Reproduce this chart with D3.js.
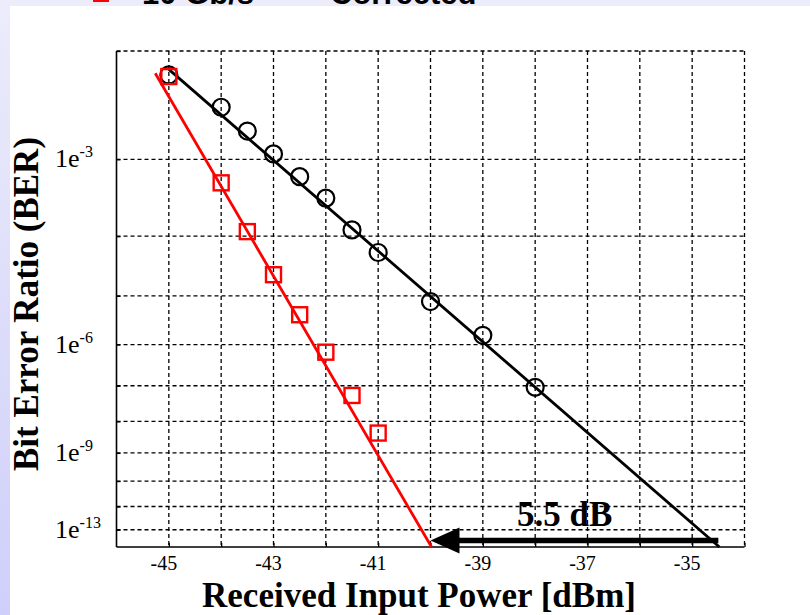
<!DOCTYPE html>
<html><head><meta charset="utf-8">
<script src="https://cdn.jsdelivr.net/npm/d3@7"></script>
<style>body{margin:0;background:#fff;overflow:hidden}svg{display:block}</style>
</head><body>
<script>
// ---- data ----
const xTickValues = [-45, -43, -41, -39, -37, -35];
const xGridValues = [-45, -44, -43, -42, -41, -40, -39, -38, -37, -36, -35, -34];
const yGridQ = [2, 3, 4, 5, 6, 7, 8, 9, 10, 11, 12];   // -log10(BER)
const yTickQ = [3, 6, 9, 12];
const yTickLabels = ["-3", "-6", "-9", "-13"];
const circlePower = [-45, -44, -43.5, -43, -42.5, -42, -41.5, -41, -40, -39, -38];
const circleBER = [6.5e-3, 3.4e-3, 2.0e-3, 1.15e-3, 6.3e-4, 3.4e-4, 1.24e-4, 5.6e-5, 7.8e-6, 1.6e-6, 9.1e-8];
const squarePower = [-45, -44, -43.5, -43, -42.5, -42, -41.5, -41];
const squareBER = [6.3e-3, 5.3e-4, 1.17e-4, 2.4e-5, 4.3e-6, 6.7e-7, 5.5e-8, 4.4e-9];
const fitBlackPower = [-45, -34.48];
const fitBlackBER = [7.2e-3, 1.58e-13];
const fitRedPower = [-45.26, -39.98];
const fitRedBER = [6.7e-3, 1.58e-13];
const arrowPower = [-34.5, -40];
const arrowBER = [3.2e-13, 3.2e-13];
const legendLabels = ["10 Gb/s", "Corrected"];

// ---- chart ----
const W = 810, H = 615;
const svg = d3.select("body").append("svg").attr("width", W).attr("height", H);
const defs = svg.append("defs");
const grad = defs.append("linearGradient").attr("id", "bg").attr("x1", 0).attr("y1", 0).attr("x2", 0).attr("y2", 1);
grad.append("stop").attr("offset", 0).attr("stop-color", "#ececfb");
grad.append("stop").attr("offset", 1).attr("stop-color", "#cfcffa");
svg.append("rect").attr("width", W).attr("height", H).attr("fill", "url(#bg)");
svg.append("rect").attr("width", W).attr("height", 6).attr("fill", "#ececfb");

// top legend (clipped at the top edge, as in the original)
svg.append("rect").attr("x", 94).attr("y", -12).attr("width", 14).attr("height", 13)
  .attr("fill", "none").attr("stroke", "#ff0000").attr("stroke-width", 2);
svg.selectAll("text.leg").data(legendLabels).join("text").attr("class", "leg")
  .attr("x", (d, i) => [142, 330][i]).attr("y", 4)
  .attr("font-family", "Liberation Sans, Arial, sans-serif").attr("font-weight", "bold")
  .attr("font-size", 31).attr("fill", "#000").text(d => d);

svg.append("rect").attr("x", 10).attr("y", 6).attr("width", W - 10).attr("height", H - 6).attr("fill", "#fff");

const x = d3.scaleLinear().domain([-46, -34]).range([116.5, 744.5]);
const yq = d3.scaleLog().domain([2, 12.8]).range([51, 547]);
const y = ber => yq(-Math.log10(ber));
const [x0, x1] = x.range();
const [y0, y1] = yq.range();

const g = svg.append("g");
// grid
g.selectAll("line.hg").data(yGridQ).join("line").attr("class", "hg")
  .attr("x1", x0).attr("x2", x1).attr("y1", d => yq(d)).attr("y2", d => yq(d))
  .attr("stroke", "#000").attr("stroke-width", 1.3).attr("stroke-dasharray", "4,3");
g.selectAll("line.vg").data(xGridValues).join("line").attr("class", "vg")
  .attr("x1", d => x(d)).attr("x2", d => x(d)).attr("y1", y0).attr("y2", y1)
  .attr("stroke", "#000").attr("stroke-width", 1.3).attr("stroke-dasharray", "4,3");

// axes
const xAxis = d3.axisBottom(x).tickValues(xGridValues).tickSize(-4).tickFormat("");
g.append("g").attr("transform", `translate(0,${y1})`).call(xAxis)
  .call(s => s.select(".domain").attr("stroke-width", 1.6).attr("d", `M${x0},0H${x1}`))
  .call(s => s.selectAll(".tick line").attr("stroke-width", 1.3));
const yAxis = d3.axisLeft(yq).tickValues(yGridQ).tickSize(-4).tickFormat("");
g.append("g").attr("transform", `translate(${x0},0)`).call(yAxis)
  .call(s => s.select(".domain").attr("stroke-width", 1.6).attr("d", `M0,${y0}V${y1}`))
  .call(s => s.selectAll(".tick line").attr("stroke-width", 1.3));

// x tick labels
g.selectAll("text.xt").data(xTickValues).join("text").attr("class", "xt")
  .attr("x", d => x(d) - 5).attr("y", 570).attr("text-anchor", "middle")
  .attr("font-family", "Liberation Serif, Times New Roman, serif").attr("font-size", 20)
  .text(d => d);

// y tick labels
const yt = g.selectAll("text.yt").data(yTickQ).join("text").attr("class", "yt")
  .attr("x", 55).attr("y", d => yq(d) + 8)
  .attr("font-family", "Liberation Serif, Times New Roman, serif").attr("font-size", 26);
yt.append("tspan").text("1e");
yt.append("tspan").attr("dy", -10).attr("font-size", 16).text((d, i) => yTickLabels[i]);

// axis titles
svg.append("text").attr("x", 419).attr("y", 607).attr("text-anchor", "middle")
  .attr("font-family", "Liberation Serif, Times New Roman, serif").attr("font-weight", "bold")
  .attr("font-size", 35).text("Received Input Power [dBm]");
svg.append("text").attr("transform", "translate(38,304) rotate(-90)").attr("text-anchor", "middle")
  .attr("font-family", "Liberation Serif, Times New Roman, serif").attr("font-weight", "bold")
  .attr("font-size", 35).text("Bit Error Ratio (BER)");

// fit lines
const line = d3.line().x(d => x(d[0])).y(d => y(d[1]));
g.append("path").datum(fitBlackPower.map((p, i) => [p, fitBlackBER[i]])).attr("d", line)
  .attr("fill", "none").attr("stroke", "#000").attr("stroke-width", 2.8);
g.append("path").datum(fitRedPower.map((p, i) => [p, fitRedBER[i]])).attr("d", line)
  .attr("fill", "none").attr("stroke", "#ff0000").attr("stroke-width", 2.8);

// markers
g.selectAll("circle.c").data(circlePower.map((p, i) => [p, circleBER[i]])).join("circle").attr("class", "c")
  .attr("cx", d => x(d[0])).attr("cy", d => y(d[1])).attr("r", 8.5)
  .attr("fill", "none").attr("stroke", "#000").attr("stroke-width", 2.2);
g.selectAll("rect.s").data(squarePower.map((p, i) => [p, squareBER[i]])).join("rect").attr("class", "s")
  .attr("x", d => x(d[0]) - 7.5).attr("y", d => y(d[1]) - 7.5).attr("width", 15).attr("height", 15)
  .attr("fill", "none").attr("stroke", "#ff0000").attr("stroke-width", 2.4);

// 5.5 dB arrow
const ax0 = x(arrowPower[0]), ax1 = x(arrowPower[1]), ay = y(arrowBER[0]);
g.append("line").attr("x1", ax0).attr("x2", ax1 + 25).attr("y1", ay).attr("y2", ay)
  .attr("stroke", "#000").attr("stroke-width", 5.5);
g.append("path").attr("d", `M${ax1},${ay}L${ax1 + 29},${ay - 13}L${ax1 + 29},${ay + 13}Z`).attr("fill", "#000");
g.append("text").attr("x", 517).attr("y", 526)
  .attr("font-family", "Liberation Serif, Times New Roman, serif").attr("font-weight", "bold")
  .attr("font-size", 35).text("5.5 dB");
</script>
</body></html>
